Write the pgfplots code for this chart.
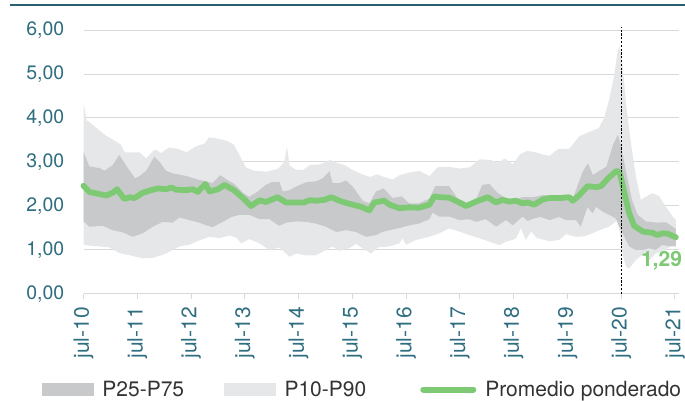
\documentclass[border=0pt]{standalone}
\usepackage{fontspec}
\setmainfont{TeX Gyre Heros}
\usepackage{pgfplots}
\pgfplotsset{compat=1.18}
\usepgfplotslibrary{fillbetween}

\definecolor{ticktxt}{HTML}{2F6E80}
\definecolor{topline}{HTML}{2C5F6E}
\definecolor{gridc}{HTML}{D9D9D9}
\definecolor{bandlight}{HTML}{E6E7E8}
\definecolor{banddark}{HTML}{C8C9CB}
\definecolor{meangreen}{HTML}{7EC974}
\definecolor{legtxt}{HTML}{333333}

\begin{document}
\begin{tikzpicture}
\begin{axis}[
at={(83.5pt,107pt)}, anchor=south west,
scale only axis, width=595pt, height=264pt,
xmin=0, xmax=132.8, ymin=0, ymax=6,
axis x line*=bottom, axis y line*=left,
x axis line style={draw=gridc, line width=1pt, -},
y axis line style={draw=none},
xtick={0,12,...,132},
xticklabels={jul-10,jul-11,jul-12,jul-13,jul-14,jul-15,jul-16,jul-17,jul-18,jul-19,jul-20,jul-21},
xtick style={draw=gridc, line width=1pt},
ytick={0,1,...,6},
ytick style={draw=none},
major tick length=5pt, tick align=outside,
xticklabel shift=8pt,
xticklabel style={rotate=90, anchor=east, inner sep=0pt, text=ticktxt, font=\fontsize{21}{21}\selectfont},
yticklabel style={inner sep=0pt, text=ticktxt, font=\fontsize{19.5}{20}\selectfont,
  /pgf/number format/.cd, fixed, fixed zerofill, precision=2, use comma, assume math mode=true},
yticklabel shift=14pt,
ymajorgrids, grid style={draw=gridc, line width=1pt},
clip=false,
legend columns=3,
legend cell align=left,
legend style={at={(rel axis cs:-0.070,-0.362)}, anchor=west, draw=none, fill=none, inner sep=0pt,
  font=\fontsize{21}{21}\selectfont, text=legtxt,
  nodes={inner sep=0pt},
  /tikz/every odd column/.append style={column sep=9pt},
  /tikz/every even column/.append style={column sep=40pt}},
]

% P10-P90 band
\addplot[draw=none, name path=p90, forget plot] coordinates {
(0,4.35) (0.7,3.95) (2,3.85) (3.5,3.72) (5,3.60) (7,3.48) (8.3,3.40) (9.2,3.22) (11,3.22) (12.5,3.22)
(14,3.08) (15.5,3.25) (16.2,3.28) (17.3,3.20) (19,3.33) (21,3.30) (23,3.22) (25,3.35) (27,3.42) (28,3.56)
(30,3.53) (32,3.48) (33.5,3.40) (34.5,3.22) (36.2,2.88) (38,2.80) (41,2.78) (43.5,2.85) (44.8,3.00) (45.4,3.35)
(46,2.92) (47.5,2.82) (49,2.82) (50.5,2.93) (53,2.95) (55,3.05) (56.5,2.98) (58.5,2.92) (60,2.82) (62.4,2.71)
(64,2.66) (65.5,2.72) (67,2.66) (69,2.60) (70.5,2.70) (72.7,2.76) (75,2.80) (77.2,2.68) (79,2.88) (81.6,2.89)
(84,2.85) (86.2,2.88) (88.4,3.06) (90.7,3.05) (92.6,2.98) (94,3.08) (95.8,2.95) (97.5,3.18) (99,3.25) (101,3.22)
(102.5,3.17) (104,3.14) (106,3.30) (108.4,3.30) (110.6,3.58) (113,3.69) (115,3.77) (116.2,4.00) (117.3,4.41) (118.4,4.94)
(119.2,5.50) (119.7,5.65) (120.3,5.20) (121.1,4.33) (122.2,3.42) (123.3,2.67) (124.4,2.14) (125.5,2.21) (127,2.29) (128.5,2.22)
(130,1.98) (131.5,1.76) (132.2,1.68)
};
\addplot[draw=none, name path=p10, forget plot] coordinates {
(0,1.12) (1.3,1.10) (3.6,1.08) (5.8,1.06) (8,0.93) (10.3,0.88) (13.2,0.81) (15.5,0.82) (17.7,0.89) (19.2,0.96)
(21.4,1.08) (23.6,1.12) (25.9,1.22) (28.1,1.30) (30.3,1.27) (32.6,1.33) (34.1,1.28) (35.2,1.15) (37,1.25) (39.3,1.15)
(41.5,1.00) (43.7,1.06) (46,0.85) (47.4,0.92) (49.7,0.88) (51.9,0.88) (54.1,1.00) (55.6,1.08) (57.1,0.98) (59.3,1.04)
(60.8,1.14) (62.3,1.04) (64.2,0.92) (65.7,1.06) (68.3,1.08) (70.5,1.15) (71.2,1.27) (72,1.12) (74.2,1.23) (77.2,1.30)
(79.4,1.38) (81.6,1.49) (83.9,1.42) (86.1,1.34) (88.3,1.27) (90.6,1.19) (92.8,1.11) (94.3,1.19) (95.8,1.23) (96.6,1.27)
(97.6,1.50) (98.7,1.23) (99.9,1.42) (101.2,1.27) (104,1.20) (106.2,1.23) (107.7,1.36) (109.9,1.30) (111.8,1.31) (113.6,1.38)
(115.1,1.45) (117.3,1.53) (119,1.66) (119.6,1.45) (120.3,0.92) (121.1,0.62) (121.8,0.58) (123.3,0.77) (124.8,0.90) (126.3,0.77)
(127.7,0.92) (129.2,0.98) (130.7,1.06) (132.2,1.17)
};
\addplot[fill=bandlight, draw=none, forget plot] fill between[of=p90 and p10];

% P25-P75 band
\addplot[draw=none, name path=p75, forget plot] coordinates {
(0,3.23) (1.3,2.90) (3.6,2.86) (4.7,2.80) (6.5,2.93) (8.0,3.16) (9.5,2.92) (11.5,2.63) (12.5,2.68) (14,2.80)
(15.8,3.12) (17,3.00) (18.4,2.80) (20,2.74) (23,2.68) (25.5,2.60) (27.4,2.56) (28.8,2.52) (30.5,2.70) (32,2.60)
(33.7,2.50) (35.6,2.30) (37.0,2.21) (38.9,2.33) (40.7,2.48) (42.2,2.55) (43.7,2.55) (44.5,2.33) (46,2.36) (47.4,2.44)
(49.7,2.54) (51.9,2.56) (53.4,2.63) (54.9,2.79) (55.6,2.52) (57.1,2.52) (58.6,2.58) (60.1,2.44) (62.3,2.12) (63.8,2.06)
(65.3,2.33) (67,2.40) (69,2.18) (71,2.22) (72.7,2.06) (74.9,2.06) (77.2,2.17) (78.5,2.45) (81.6,2.45) (83.5,2.17)
(85.7,2.06) (87.6,2.14) (89,2.48) (90.6,2.50) (92.4,2.30) (94.3,2.17) (96,2.15) (98,2.20) (100.3,2.20) (102.6,2.25)
(104.8,2.23) (107,2.25) (109.3,2.20) (111.5,2.80) (112.6,2.97) (113.7,2.70) (114.8,2.78) (116.7,2.89) (118.2,3.40) (119.3,3.62)
(120.0,3.35) (121.2,2.72) (122.4,2.14) (123.7,1.80) (125.5,1.65) (128,1.62) (130,1.63) (132.2,1.48)
};
\addplot[draw=none, name path=p25, forget plot] coordinates {
(0,1.65) (1.3,1.53) (4.3,1.55) (6.5,1.45) (8.8,1.40) (11,1.30) (13.2,1.38) (15.5,1.53) (17.7,1.64) (19.9,1.62)
(21.4,1.74) (23.6,1.68) (25.9,1.62) (27.4,1.56) (28.8,1.52) (31.1,1.64) (33,1.75) (34.8,1.80) (37,1.80) (39.3,1.70)
(41.5,1.70) (43.7,1.55) (45.2,1.62) (47.4,1.65) (49.7,1.64) (51.9,1.60) (54.1,1.53) (56.4,1.41) (58.6,1.45) (60.8,1.41)
(63.1,1.30) (65.3,1.34) (66.5,1.40) (68.3,1.45) (70.5,1.50) (72.7,1.56) (74.9,1.60) (77.2,1.70) (77.9,1.85) (79.4,1.76)
(81.6,1.76) (83.9,1.68) (86.1,1.70) (87.6,1.64) (89.8,1.70) (92.1,1.53) (94.3,1.68) (95.8,1.56) (98,1.76) (99.1,1.66)
(100.6,1.72) (102,1.75) (104,1.68) (106.2,1.75) (107.7,1.68) (109.9,1.68) (111,1.53) (112.5,1.98) (113.6,1.83) (114.4,1.98)
(115.9,1.87) (117.3,1.80) (118.8,1.72) (119.6,1.53) (120.7,1.30) (121.8,1.08) (123.3,1.00) (124.8,1.00) (126.3,1.04) (127.7,1.00)
(129.2,1.12) (130.7,1.08) (132.2,1.08)
};
\addplot[fill=banddark, draw=none, forget plot] fill between[of=p75 and p25];

\addlegendimage{legend image code/.code={\fill[banddark] (0pt,-6pt) rectangle (51pt,6pt);}}
\addlegendentry{P25-P75}
\addlegendimage{legend image code/.code={\fill[bandlight] (0pt,-6pt) rectangle (51pt,6pt);}}
\addlegendentry{\hbox{P10-P90\kern14pt}}

% weighted average
\addplot[meangreen, line width=5.8pt, line join=round, line cap=round,
  legend image code/.code={\draw[meangreen, line width=6pt, line cap=round] (3pt,0pt) -- (53pt,0pt);}]
coordinates {
(0,2.46) (1.3,2.32) (3.6,2.27) (5.1,2.24) (6.5,2.30) (7.5,2.38) (9.1,2.16) (10.3,2.20) (11.4,2.18) (13.2,2.30)
(15.1,2.36) (16.6,2.40) (18.4,2.38) (19.6,2.42) (20.7,2.37) (22.9,2.36) (24.4,2.38) (25.5,2.32) (27.2,2.50) (28.1,2.33)
(30,2.38) (31.5,2.48) (33.7,2.35) (35.6,2.18) (37.4,2.00) (39.3,2.13) (40.7,2.09) (43.3,2.20) (45.2,2.08) (47.4,2.08)
(49.2,2.08) (50.4,2.13) (51.9,2.12) (53.8,2.14) (55.3,2.20) (57.1,2.12) (59.3,2.05) (62,1.98) (63.8,1.90) (64.9,2.08)
(67.1,2.12) (68.3,2.03) (70.5,1.95) (72.7,1.97) (74.9,1.96) (77.2,2.03) (78.3,2.22) (79.4,2.20) (81.6,2.19) (83.9,2.08)
(85.4,2.00) (87.6,2.10) (90.2,2.20) (92.1,2.08) (93.5,2.14) (95,2.10) (96.5,2.12) (98,2.06) (99.1,2.08) (100.6,2.03)
(102.5,2.15) (104,2.18) (106.2,2.18) (108.4,2.20) (109.2,2.12) (110.6,2.24) (112.5,2.45) (114.4,2.43) (115.5,2.45) (117.3,2.65)
(119,2.80) (119.7,2.76) (120.7,2.30) (121.8,1.83) (122.9,1.55) (124.8,1.42) (127,1.39) (128.1,1.34) (129.2,1.38) (130.4,1.37)
(132.2,1.29)
};
\addlegendentry{Promedio ponderado}

\draw[black, line width=0.9pt, dash pattern=on 2.2pt off 1.6pt] (axis cs:120,0) -- (axis cs:120,6.07);
\node[anchor=base west, inner sep=0pt, text=meangreen, font=\fontsize{21}{21}\selectfont\bfseries] at (axis cs:124.4,0.614) {1,29};
\end{axis}
\draw[topline, line width=1.6pt] (10pt,396pt) -- (685pt,396pt);
\pgfresetboundingbox
\path[use as bounding box] (0pt,0pt) rectangle (685pt,401pt);
\end{tikzpicture}
\end{document}
